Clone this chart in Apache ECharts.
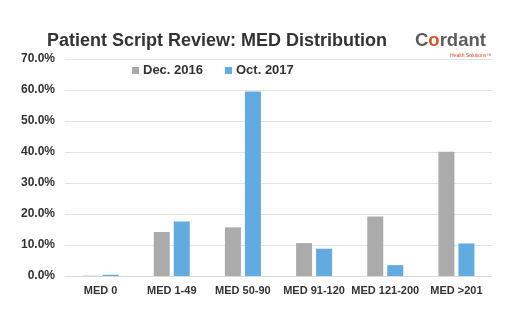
<!DOCTYPE html>
<html><head><meta charset="utf-8">
<script src="https://cdn.jsdelivr.net/npm/echarts@6/dist/echarts.min.js"></script>
<style>html,body{margin:0;padding:0;background:#fff}#c{width:512px;height:323px}</style>
</head><body><div id="c"></div>
<script>
const categories = ['MED 0','MED 1-49','MED 50-90','MED 91-120','MED 121-200','MED >201'];
const dec2016 = [0.1, 14.2, 15.7, 10.6, 19.2, 40.1];
const oct2017 = [0.4, 17.6, 59.5, 8.8, 3.5, 10.5];
const seriesNames = ['Dec. 2016','Oct. 2017'];
const chart = echarts.init(document.getElementById('c'));
chart.setOption({
  animation:false,
  backgroundColor:'#fff',
  title:[{
    text:'Patient Script Review: MED Distribution',
    left:212, top:27, textAlign:'center',
    textStyle:{fontFamily:'Liberation Sans, Arial',fontWeight:'bold',fontSize:18,color:'#333'}
  },{
    text:'{a|C}{o|o}{a|rdant}',
    left:410, top:26,
    textStyle:{rich:{
      a:{fontFamily:'Liberation Sans, Arial',fontSize:18.5,color:'#5c5c5c'},
      o:{fontFamily:'Liberation Sans, Arial',fontSize:18.5,color:'#d9532c',fontWeight:'bold'}
    }}
  },{
    text:'Health Solutions™',
    left:445, top:48,
    textStyle:{fontFamily:'Liberation Sans, Arial',fontSize:5,color:'#d9532c',fontWeight:'normal'}
  }],
  legend:{
    data:seriesNames, left:127, top:59, itemWidth:7, itemHeight:7, itemGap:22,
    icon:'rect',
    textStyle:{fontFamily:'Liberation Sans, Arial',fontWeight:'bold',fontSize:13,color:'#333',padding:[0,0,0,-1]}
  },
  grid:{left:65,right:20,top:59,bottom:47,containLabel:false},
  xAxis:{
    type:'category', data:categories,
    axisLine:{lineStyle:{color:'#d9d9d9'}}, axisTick:{show:false},
    axisLabel:{interval:0,fontFamily:'Liberation Sans, Arial',fontWeight:'bold',fontSize:11,color:'#333',margin:9}
  },
  yAxis:{
    type:'value', min:0, max:70, interval:10,
    axisLine:{show:false}, axisTick:{show:false},
    splitLine:{lineStyle:{color:'#e3e3e3'}},
    axisLabel:{formatter:v=>v.toFixed(1)+'%',fontFamily:'Liberation Sans, Arial',fontWeight:'bold',fontSize:12,color:'#333',margin:10}
  },
  series:[
    {name:seriesNames[0],type:'bar',data:dec2016,barWidth:16,barGap:'25%',itemStyle:{color:'#ababab'}},
    {name:seriesNames[1],type:'bar',data:oct2017,barWidth:16,itemStyle:{color:'#62abe0'}}
  ]
});
</script></body></html>
